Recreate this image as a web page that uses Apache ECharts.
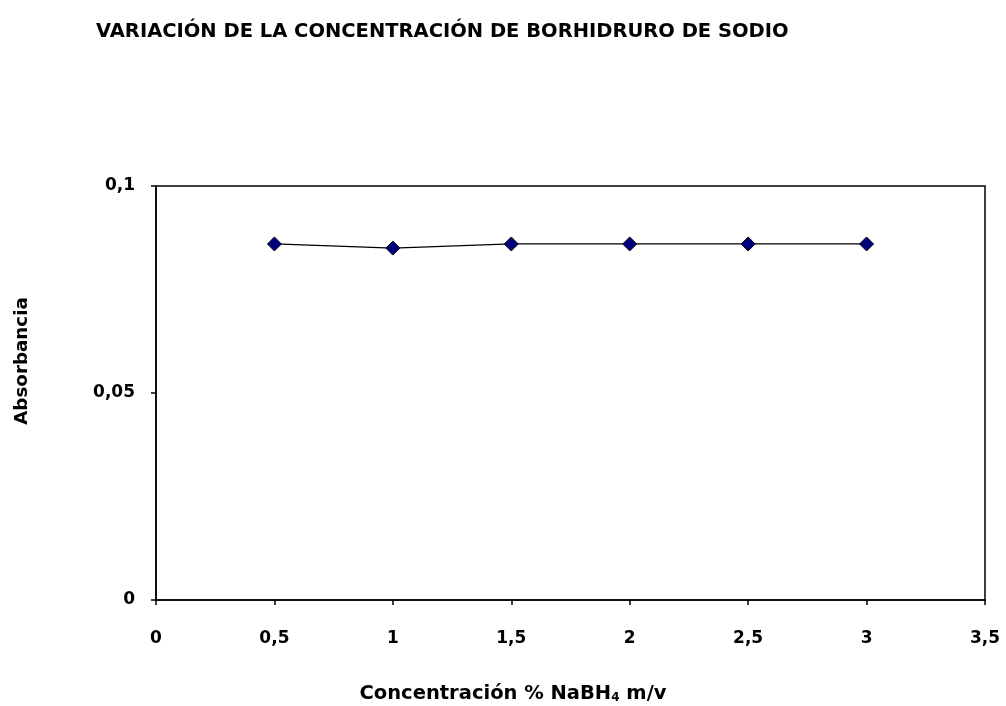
<!DOCTYPE html>
<html>
<head>
<meta charset="utf-8">
<script src="https://cdn.jsdelivr.net/npm/echarts@6/dist/echarts.min.js"></script>
<style>html,body{margin:0;padding:0;background:#fff;}#c{width:1006px;height:706px;}</style>
</head>
<body>
<div id="c"></div>
<script>
const titleText = 'VARIACIÓN DE LA CONCENTRACIÓN DE BORHIDRURO DE SODIO';
const xAxisName = 'Concentración % NaBH';
const xAxisSub = '4';
const xAxisUnit = ' m/v';
const yAxisName = 'Absorbancia';
const concentrations = [0.5, 1, 1.5, 2, 2.5, 3];
const absorbance = [0.086, 0.085, 0.086, 0.086, 0.086, 0.086];

const FONT = 'DejaVu Sans';
const chart = echarts.init(document.getElementById('c'));
const fmt = v => String(v).replace('.', ',');
chart.setOption({
  animation: false,
  backgroundColor: '#fff',
  title: {
    text: titleText, left: 91, top: 17,
    textStyle: { fontFamily: FONT, fontWeight: 'bold', fontSize: 19.5, color: '#000' }
  },
  graphic: [
    {
      type: 'text', x: 513, y: 694,
      style: {
        text: '{a|' + xAxisName + '}{s|' + xAxisSub + '}{a|' + xAxisUnit + '}',
        align: 'center', verticalAlign: 'middle',
        rich: {
          a: { fontFamily: FONT, fontWeight: 'bold', fontSize: 19.5, fill: '#000' },
          s: { fontFamily: FONT, fontWeight: 'bold', fontSize: 12, fill: '#000', padding: [7, 0, 0, 0] }
        }
      }
    },
    {
      type: 'text', x: 22, y: 361, rotation: Math.PI / 2,
      style: {
        text: yAxisName, align: 'center', verticalAlign: 'middle',
        fontFamily: FONT, fontWeight: 'bold', fontSize: 18.3, fill: '#000'
      }
    }
  ],
  grid: { left: 156, right: 21, top: 186, bottom: 106, outerBoundsMode: 'none', show: true, borderColor: '#000', borderWidth: 1.5, backgroundColor: 'transparent' },
  xAxis: {
    type: 'value', min: 0, max: 3.5, interval: 0.5,
    axisLine: { lineStyle: { color: '#000', width: 1.5 } },
    axisTick: { show: true, inside: false, length: 5, lineStyle: { color: '#000', width: 1.5 } },
    axisLabel: { formatter: fmt, margin: 30, fontFamily: FONT, fontWeight: 'bold', fontSize: 17, color: '#000' },
    splitLine: { show: false }
  },
  yAxis: {
    type: 'value', min: 0, max: 0.1, interval: 0.05,
    axisLine: { show: true, lineStyle: { color: '#000', width: 1.5 } },
    axisTick: { show: true, inside: false, length: 5, lineStyle: { color: '#000', width: 1.5 } },
    axisLabel: { formatter: fmt, margin: 21, fontFamily: FONT, fontWeight: 'bold', fontSize: 17, color: '#000' },
    splitLine: { show: false }
  },
  series: [{
    type: 'line',
    data: concentrations.map((x, i) => [x, absorbance[i]]),
    symbol: 'diamond', symbolSize: 14,
    itemStyle: { color: '#000080', borderColor: '#000', borderWidth: 1 },
    lineStyle: { color: '#000', width: 1.2 }
  }]
});
</script>
</body>
</html>
